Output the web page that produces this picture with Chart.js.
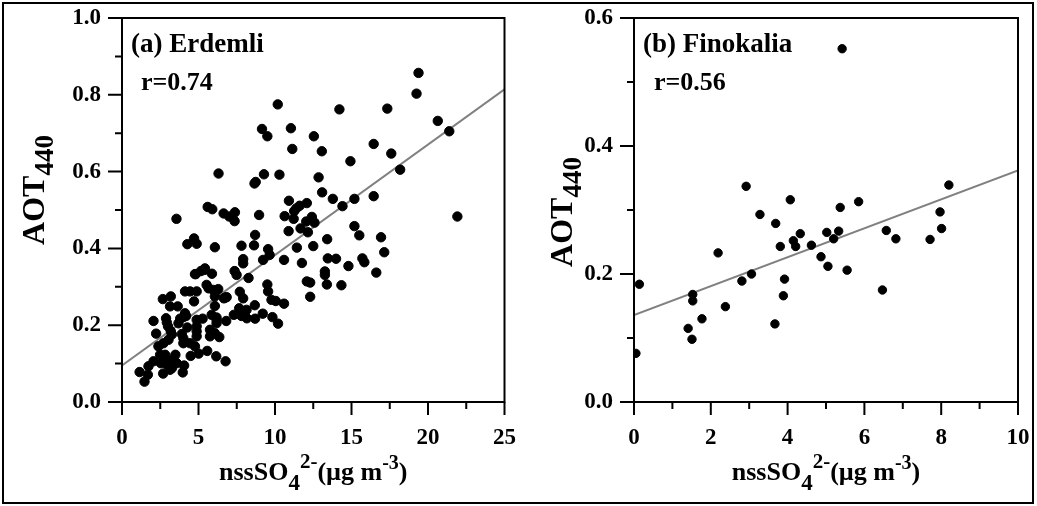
<!DOCTYPE html>
<html>
<head>
<meta charset="utf-8">
<script src="https://cdn.jsdelivr.net/npm/chart.js@4/dist/chart.umd.min.js"></script>
<style>
  body { margin: 0; background: #fff; }
  #wrap { position: relative; width: 1037px; height: 506px; }
  #frame { position: absolute; left: 2px; top: 2px; width: 1032px; height: 502px; border: 2px solid #000; box-sizing: border-box; pointer-events: none; }
  canvas { position: absolute; top: 0; }
</style>
</head>
<body>
<div id="wrap">
  <canvas id="erdemli" width="518" height="506" style="left:0"></canvas>
  <canvas id="finokalia" width="519" height="506" style="left:518px"></canvas>
  <div id="frame"></div>
</div>
<script>
// (a) Erdemli : nssSO4 (µg m-3) vs AOT440
const erdemliX = [19.38, 19.25, 10.18, 14.21, 17.34, 20.64, 21.39, 9.15, 9.50, 11.04, 12.54, 11.13, 13.06, 16.45, 17.60, 14.93, 18.18, 6.31, 9.28, 10.29,
  12.85, 8.66, 8.74, 13.08, 13.78, 14.41, 15.19, 16.45, 10.91, 11.39, 11.61, 12.08, 10.63, 11.22, 12.41, 12.04, 12.58, 11.67, 8.96, 15.19,
  21.92, 3.56, 5.60, 5.90, 6.64, 7.01, 7.38, 7.36, 10.89, 12.15, 8.70, 15.51, 16.93, 13.41, 4.27, 4.71, 4.88, 6.07, 7.81, 8.63,
  9.55, 9.65, 11.43, 12.50, 10.59, 9.22, 7.92, 11.76, 13.45, 13.99, 15.71, 15.84, 17.14, 14.80, 13.26, 13.26, 16.62, 12.08, 12.30, 13.39,
  14.34, 12.30, 9.50, 9.55, 9.77, 10.05, 10.59, 8.27, 7.36, 7.49, 7.70, 7.92, 8.68, 7.66, 7.31, 7.81, 8.16, 8.70, 9.20, 9.83,
  10.20, 6.75, 6.81, 6.16, 6.77, 5.57, 5.01, 4.49, 7.92, 4.77, 5.16, 5.40, 5.88, 5.53, 5.66, 5.96, 6.29, 6.07, 6.66, 6.84,
  4.12, 4.45, 4.88, 4.71, 2.67, 3.19, 3.14, 3.64, 6.07, 5.86, 6.18, 5.27, 4.88, 4.12, 4.19, 3.80, 4.01, 2.88, 2.93, 2.06,
  2.23, 3.01, 3.19, 3.26, 3.69, 4.27, 4.88, 4.88, 4.88, 3.91, 4.01, 4.01, 4.45, 4.77, 5.75, 5.75, 6.07, 6.36, 6.18, 6.18,
  2.38, 2.71, 2.49, 2.82, 3.49, 2.06, 2.54, 2.93, 3.26, 3.58, 2.69, 3.14, 4.06, 3.97, 1.73, 1.15, 1.69, 1.47, 3.04, 3.36,
  11.25, 3.04, 8.14, 5.42, 4.82];
const erdemliY = [0.857, 0.803, 0.775, 0.762, 0.764, 0.732, 0.705, 0.711, 0.692, 0.713, 0.692, 0.659, 0.653, 0.672, 0.647, 0.627, 0.605, 0.595, 0.593, 0.592,
  0.585, 0.569, 0.573, 0.546, 0.529, 0.510, 0.529, 0.536, 0.524, 0.504, 0.511, 0.518, 0.484, 0.477, 0.482, 0.470, 0.467, 0.452, 0.487, 0.458,
  0.483, 0.477, 0.508, 0.502, 0.491, 0.483, 0.494, 0.471, 0.445, 0.442, 0.435, 0.434, 0.429, 0.424, 0.411, 0.426, 0.412, 0.403, 0.407, 0.408,
  0.398, 0.383, 0.402, 0.406, 0.370, 0.370, 0.361, 0.362, 0.374, 0.373, 0.374, 0.364, 0.390, 0.354, 0.340, 0.331, 0.337, 0.314, 0.311, 0.306,
  0.304, 0.274, 0.306, 0.288, 0.266, 0.263, 0.256, 0.323, 0.341, 0.331, 0.287, 0.270, 0.252, 0.244, 0.227, 0.224, 0.218, 0.217, 0.230, 0.221,
  0.204, 0.272, 0.211, 0.119, 0.106, 0.133, 0.126, 0.120, 0.372, 0.333, 0.341, 0.344, 0.334, 0.305, 0.296, 0.292, 0.294, 0.275, 0.270, 0.273,
  0.288, 0.288, 0.288, 0.262, 0.268, 0.275, 0.249, 0.249, 0.250, 0.227, 0.220, 0.217, 0.214, 0.231, 0.224, 0.217, 0.221, 0.218, 0.207, 0.211,
  0.178, 0.197, 0.184, 0.176, 0.205, 0.194, 0.197, 0.184, 0.171, 0.177, 0.166, 0.153, 0.153, 0.145, 0.188, 0.171, 0.179, 0.169, 0.214, 0.205,
  0.145, 0.153, 0.123, 0.123, 0.123, 0.106, 0.101, 0.097, 0.088, 0.101, 0.074, 0.084, 0.095, 0.077, 0.093, 0.078, 0.071, 0.053, 0.110, 0.110,
  0.497, 0.162, 0.240, 0.348, 0.333];
const erdemliFitX = [0, 25];
const erdemliFitY = [0.095, 0.814];

// (b) Finokalia
const finokaliaX = [2.92, 4.07, 3.28, 3.69, 4.33, 5.02, 4.15, 4.21, 3.81, 4.62, 4.87, 5.05, 2.19, 3.06, 2.81, 3.92, 3.89, 0.14, 1.53, 1.53,
  2.38, 1.77, 1.41, 1.51, 3.67, 0.05, 8.20, 5.85, 5.37, 7.97, 5.33, 5.20, 6.57, 6.82, 8.01, 7.71, 5.55, 6.47, 5.42];
const finokaliaY = [0.337, 0.316, 0.293, 0.279, 0.263, 0.265, 0.252, 0.243, 0.243, 0.245, 0.227, 0.212, 0.233, 0.200, 0.189, 0.192, 0.166, 0.184, 0.168, 0.158,
  0.149, 0.130, 0.115, 0.098, 0.122, 0.076, 0.339, 0.313, 0.304, 0.297, 0.267, 0.255, 0.268, 0.255, 0.271, 0.254, 0.206, 0.175, 0.552];
const finokaliaFitX = [0, 10];
const finokaliaFitY = [0.136, 0.362];

const SERIF = "'Liberation Serif', 'Times New Roman', serif";

function pts(xs, ys) { return xs.map((x, i) => ({ x: x, y: ys[i] })); }

// box round the plot + major/minor tick marks
const axisBox = {
  id: 'axisBox',
  afterDraw(chart, args, o) {
    const { ctx, chartArea: a, scales } = chart;
    ctx.save();
    ctx.strokeStyle = '#000';
    ctx.lineWidth = 2;
    ctx.strokeRect(a.left, a.top, a.right - a.left, a.bottom - a.top);
    ctx.beginPath();
    const xs = scales.x, ys = scales.y;
    for (let i = 0; xs.min + i * o.xMinor <= xs.max + 1e-9; i++) {
      const px = xs.getPixelForValue(xs.min + i * o.xMinor);
      ctx.moveTo(px, a.bottom);
      ctx.lineTo(px, a.bottom + (i % 2 === 0 ? 13 : 7));
    }
    for (let i = 0; ys.min + i * o.yMinor <= ys.max + 1e-9; i++) {
      const py = ys.getPixelForValue(ys.min + i * o.yMinor);
      ctx.moveTo(a.left, py);
      ctx.lineTo(a.left - (i % 2 === 0 ? 14 : 7), py);
    }
    ctx.stroke();
    ctx.restore();
  }
};

// panel label, r value and the axis titles with sub/superscripts
function runs(ctx, list, x, y) {
  let w = 0;
  list.forEach(r => { ctx.font = 'bold ' + r[1] + 'px ' + SERIF; w += ctx.measureText(r[0]).width; });
  let cx = x - w / 2;
  list.forEach(r => {
    ctx.font = 'bold ' + r[1] + 'px ' + SERIF;
    ctx.fillText(r[0], cx, y + r[2]);
    cx += ctx.measureText(r[0]).width;
  });
}

const labels = {
  id: 'labels',
  afterDraw(chart, args, o) {
    const ctx = chart.ctx;
    const a = chart.chartArea;
    ctx.save();
    ctx.fillStyle = '#000';
    ctx.textAlign = 'left';
    ctx.textBaseline = 'alphabetic';
    ctx.font = 'bold 27px ' + SERIF;
    ctx.fillText(o.panel, o.panelX, 52);
    ctx.font = 'bold 26px ' + SERIF;
    ctx.fillText(o.r, o.rX, 90);
    // x title
    runs(ctx, [['nssSO', 26, 0], ['4', 23, 10], ['2-', 21, -12], ['(\u00b5g m', 26, 0], ['-3', 20, -11], [')', 26, 0]],
      (a.left + a.right) / 2, 480);
    // y title
    ctx.translate(o.yTitleX, o.yTitleY);
    ctx.rotate(-Math.PI / 2);
    runs(ctx, [['AOT', 32, 0], ['440', 27, 9]], 0, 0);
    ctx.restore();
  }
};

function makeChart(id, xs, ys, fx, fy, xMax, xStep, yMax, o) {
  const tickFont = { family: SERIF, size: 23, weight: 'bold' };
  // tick marks come from axisBox, the library grid only reserves the room
  const hiddenGrid = len => ({ display: true, drawOnChartArea: false, drawTicks: true, tickLength: len, tickColor: 'rgba(0,0,0,0)', color: 'rgba(0,0,0,0)' });
  return new Chart(document.getElementById(id), {
    type: 'scatter',
    data: {
      datasets: [
        { data: pts(xs, ys), backgroundColor: '#000', borderColor: '#000', pointRadius: o.radius, pointHoverRadius: o.radius, order: 0 },
        { data: pts(fx, fy), showLine: true, borderColor: '#808080', borderWidth: 2, pointRadius: 0, order: 1 }
      ]
    },
    options: {
      responsive: false,
      animation: false,
      layout: { padding: { top: 18, right: o.padRight, left: 0, bottom: 0 } },
      plugins: {
        legend: { display: false },
        tooltip: { enabled: false },
        axisBox: { xMinor: xStep / 2, yMinor: 0.1 },
        labels: o
      },
      scales: {
        x: {
          type: 'linear', min: 0, max: xMax,
          grid: hiddenGrid(20),
          border: { display: false },
          ticks: { stepSize: xStep, padding: 2, color: '#000', font: tickFont },
          afterFit: s => { s.height = 104; }
        },
        y: {
          type: 'linear', min: 0, max: yMax,
          grid: hiddenGrid(18),
          border: { display: false },
          ticks: { stepSize: 0.2, padding: 3, color: '#000', font: tickFont, callback: v => v.toFixed(1) },
          afterFit: s => { s.width = o.axisW; }
        }
      }
    },
    plugins: [axisBox, labels]
  });
}

makeChart('erdemli', erdemliX, erdemliY, erdemliFitX, erdemliFitY, 25, 5, 1.0,
  { panel: '(a) Erdemli', panelX: 131, r: 'r=0.74', rX: 141, yTitleX: 44, yTitleY: 190, axisW: 122, padRight: 12, radius: 4.7 });
makeChart('finokalia', finokaliaX, finokaliaY, finokaliaFitX, finokaliaFitY, 10, 2, 0.6,
  { panel: '(b) Finokalia', panelX: 125, r: 'r=0.56', rX: 136, yTitleX: 54, yTitleY: 212, axisW: 116, padRight: 19, radius: 4.2 });
</script>
</body>
</html>
